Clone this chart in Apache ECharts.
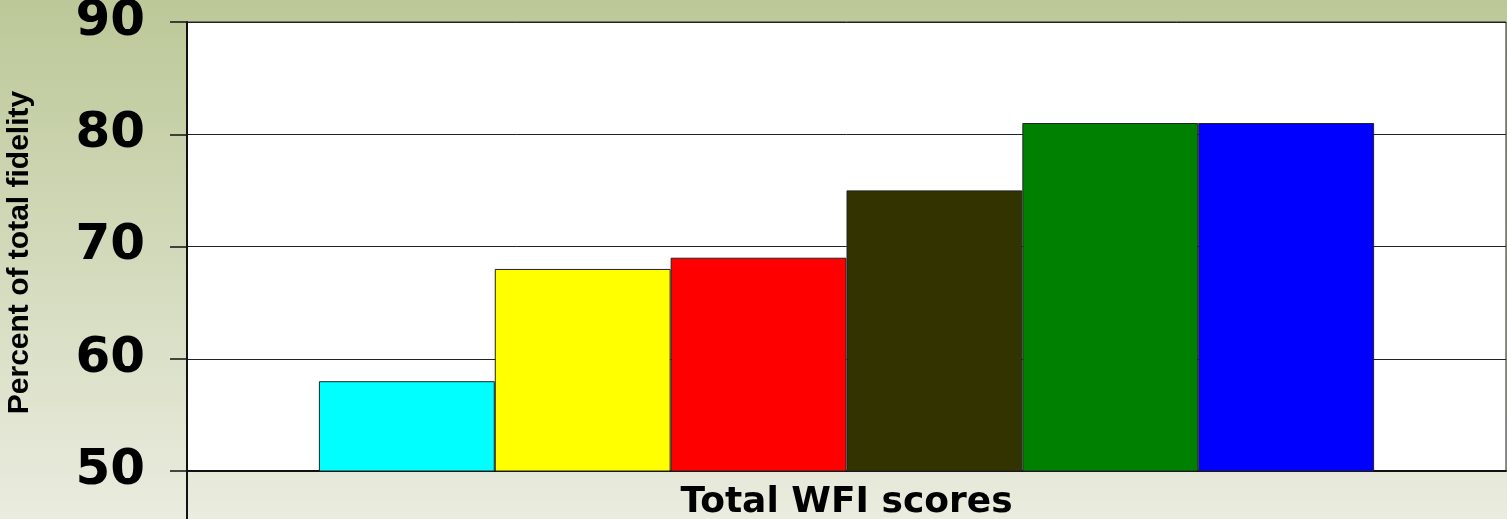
<!DOCTYPE html>
<html>
<head>
<meta charset="utf-8">
<script src="https://cdn.jsdelivr.net/npm/echarts@6/dist/echarts.min.js"></script>
<style>
  html, body { margin: 0; padding: 0; }
  #chart { width: 1507px; height: 519px; }
</style>
</head>
<body>
<div id="chart"></div>
<script>
// data
const categories = ['Total WFI scores']
const seriesNames = ['Group 1', 'Group 2', 'Group 3', 'Group 4', 'Group 5', 'Group 6']
const seriesValues = [58, 68, 69, 75, 81, 81]
const barColors = ['#00ffff', '#ffff00', '#ff0000', '#333300', '#008000', '#0000ff']
const yTicks = [50, 60, 70, 80, 90]

const myChart = echarts.init(document.getElementById('chart'))

const option = {
  animation: false,
  backgroundColor: {
    type: 'linear', x: 0, y: 0, x2: 0, y2: 1,
    colorStops: [
      { offset: 0, color: '#bcc898' },
      { offset: 1, color: '#eaecdf' }
    ]
  },
  grid: {
    left: 187,
    right: 1,
    top: 22,
    bottom: 48,
    outerBoundsMode: 'none',
    containLabel: false,
    show: true,
    backgroundColor: '#ffffff',
    borderColor: '#222',
    borderWidth: 1
  },
  xAxis: {
    type: 'category',
    data: categories,
    axisTick: { show: false },
    axisLine: {
      lineStyle: { color: '#111', width: 2 }
    },
    axisLabel: {
      color: '#000',
      fontFamily: 'DejaVu Sans',
      fontWeight: 'bold',
      fontSize: 36,
      margin: 14
    }
  },
  yAxis: {
    type: 'value',
    min: yTicks[0],
    max: yTicks[yTicks.length - 1],
    interval: 10,
    name: 'Percent of total fidelity',
    nameLocation: 'middle',
    nameGap: 152,
    nameTextStyle: {
      color: '#000',
      fontFamily: 'Liberation Sans',
      fontWeight: 'bold',
      fontSize: 30,
      padding: [0, 12, 0, 0]
    },
    axisLine: {
      show: true,
      lineStyle: { color: '#111', width: 2 }
    },
    axisTick: {
      show: true,
      length: 17,
      lineStyle: { color: '#111', width: 1.5 }
    },
    splitLine: {
      lineStyle: { color: '#222', width: 1 }
    },
    axisLabel: {
      color: '#000',
      fontFamily: 'DejaVu Sans',
      fontWeight: 'bold',
      fontSize: 50,
      margin: 42
    }
  },
  graphic: [{
    type: 'line',
    shape: { x1: 187, y1: 471, x2: 187, y2: 519 },
    style: { stroke: '#111', lineWidth: 2 }
  }],
  series: seriesValues.map((v, i) => ({
    name: seriesNames[i],
    type: 'bar',
    data: [v],
    barGap: '0%',
    barCategoryGap: '20%',
    itemStyle: {
      color: barColors[i],
      borderColor: '#222',
      borderWidth: 1
    }
  }))
}

myChart.setOption(option)
</script>
</body>
</html>
